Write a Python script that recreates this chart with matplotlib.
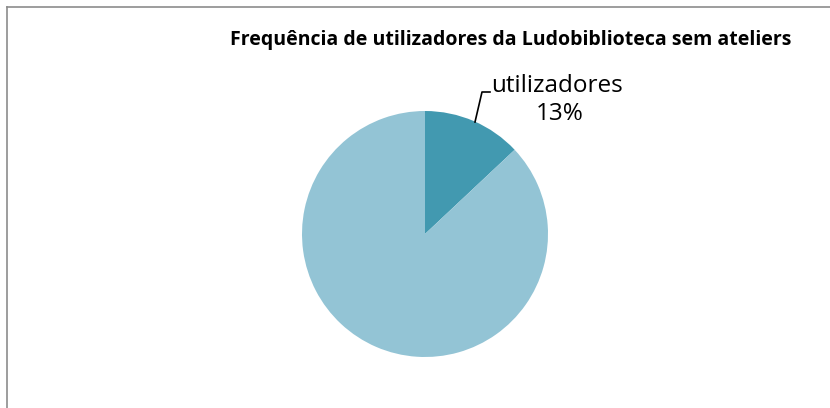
import matplotlib.pyplot as plt
from matplotlib.lines import Line2D

labels = ['utilizadores', 'não utilizadores']
values = [13, 87]
colors = ['#4299B0', '#93C4D5']
title = 'Frequência de utilizadores da Ludobiblioteca sem ateliers'

W, H = 830, 408
fig = plt.figure(figsize=(W / 100, H / 100), dpi=100)
ax = fig.add_axes([0, 0, 1, 1])

# pie in pixel-like data coords (y up)
ax.pie(values, colors=colors, startangle=90, counterclock=False,
       center=(425, H - 234), radius=123, wedgeprops=dict(linewidth=0))
ax.set_xlim(0, W)
ax.set_ylim(0, H)
ax.set_aspect('equal')
ax.axis('off')

# label for first slice with leader line
ax.plot([475, 482, 490], [H - 122, H - 92, H - 92], color='black', lw=1.2)
ax.text(557, H - 86, labels[0], ha='center', va='center', fontsize=17.5,
        family='Open Sans', color='black')
ax.text(560, H - 114, '%d%%' % values[0], ha='center', va='center', fontsize=17.5,
        family='Open Sans', color='black')

fig.text(511 / W, 1 - 40 / H, title, ha='center', va='center', fontsize=14,
         fontweight='bold', family='Open Sans')

# chart border (left + top visible)
fig.add_artist(Line2D([6.5 / W, 6.5 / W], [0, 1 - 6.5 / H], color='#8c8c8c', lw=1.2,
                      transform=fig.transFigure))
fig.add_artist(Line2D([6.5 / W, 1], [1 - 6.5 / H, 1 - 6.5 / H], color='#8c8c8c', lw=1.2,
                      transform=fig.transFigure))

fig.savefig('out.png', dpi=100, facecolor='white')
